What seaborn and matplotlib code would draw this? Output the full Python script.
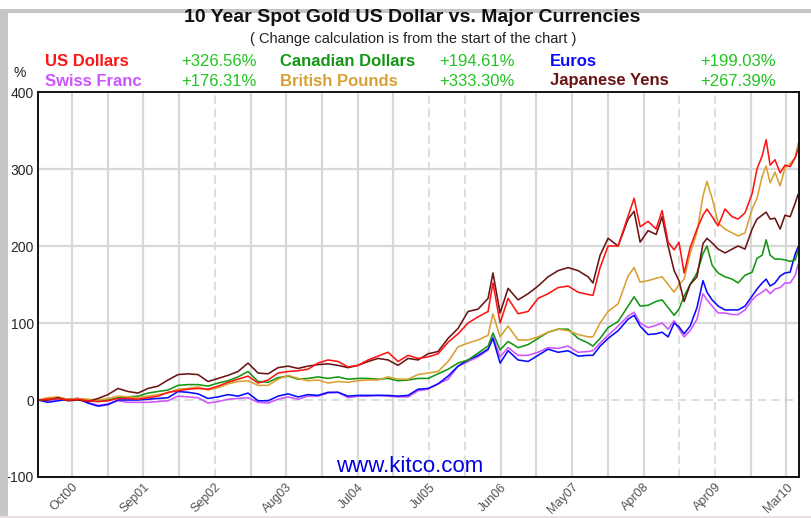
import pandas as pd
import matplotlib
matplotlib.use("Agg")
import matplotlib.pyplot as plt
import seaborn as sns
from matplotlib.patches import Rectangle

# ------------------------------------------------------------
# data (trading-day index, % change from start)
# ------------------------------------------------------------
days = [0, 35, 70, 105, 140, 175, 210, 245, 280, 315,
        350, 385, 420, 455, 490, 525, 560, 595, 630, 665,
        700, 735, 770, 805, 840, 875, 910, 945, 980, 1015,
        1050, 1085, 1120, 1155, 1190, 1225, 1260, 1295, 1330, 1365,
        1400, 1435, 1470, 1505, 1540, 1575, 1592, 1617, 1645, 1680,
        1715, 1750, 1785, 1820, 1855, 1890, 1925, 1942, 1967, 1995,
        2030, 2065, 2086, 2107, 2135, 2163, 2184, 2205, 2226, 2243,
        2261, 2282, 2306, 2327, 2341, 2359, 2380, 2404, 2429, 2450,
        2474, 2499, 2516, 2534, 2548, 2562, 2579, 2597, 2614, 2632,
        2650, 2660]

usd = [0, 1, 2, 0, 1, -1, -2, -1, 2, 2,
       1, 3, 5, 10, 12, 14, 15, 14, 18, 23,
       27, 31, 22, 26, 35, 37, 38, 40, 48, 52,
       50, 43, 45, 52, 57, 62, 50, 58, 54, 56,
       60, 75, 86, 100, 108, 115, 152, 100, 132, 112,
       115, 132, 138, 146, 148, 140, 137, 136, 172, 200,
       200, 239, 262, 225, 232, 222, 246, 205, 195, 205,
       165, 198, 222, 240, 248, 238, 226, 248, 238, 235,
       243, 268, 300, 317, 338, 305, 312, 295, 305, 303,
       315, 326.56]

cad = [0, 1, 2, 0, 1, -1, -2, 0, 3, 4,
       5, 9, 11, 13, 19, 20, 20, 18, 22, 25,
       30, 37, 24, 23, 29, 31, 27, 28, 30, 28,
       30, 27, 28, 28, 27, 28, 25, 26, 28, 28,
       34, 40, 48, 52, 61, 70, 87, 65, 76, 68,
       72, 80, 88, 92, 92, 80, 74, 70, 80, 94,
       102, 122, 134, 122, 123, 128, 130, 120, 110, 118,
       135, 150, 165, 190, 200, 175, 165, 160, 157, 152,
       162, 166, 184, 188, 208, 188, 183, 183, 182, 180,
       182, 194.61]

eur = [0, -3, -1, 1, 2, -4, -8, -6, 0, 0,
       0, 1, 2, 3, 11, 10, 8, 2, 4, 7,
       5, 9, -1, -1, 5, 8, 4, 7, 6, 10,
       10, 5, 6, 6, 6, 6, 5, 6, 14, 15,
       21, 31, 44, 52, 58, 66, 80, 48, 64, 52,
       50, 58, 66, 62, 64, 57, 58, 58, 70, 80,
       90, 105, 110, 96, 85, 86, 88, 82, 100, 95,
       86, 96, 120, 155, 140, 130, 122, 117, 117, 117,
       122, 135, 144, 152, 157, 148, 152, 161, 165, 166,
       190, 199.03]

chf = [0, -1, 1, 0, 1, -3, -7, -5, -1, -3,
       -3, -3, -2, -1, 5, 4, 3, -4, -2, 1,
       2, 3, -3, -4, 1, 4, 1, 5, 5, 9,
       10, 3, 5, 5, 6, 5, 4, 4, 12, 14,
       21, 27, 44, 50, 56, 65, 82, 56, 68, 58,
       58, 62, 68, 67, 70, 62, 63, 64, 74, 84,
       96, 109, 114, 100, 94, 97, 100, 92, 103, 92,
       82, 90, 105, 138, 130, 122, 113, 113, 111, 111,
       117, 130, 136, 140, 144, 138, 144, 146, 152, 152,
       162, 176.31]

gbp = [0, 3, 4, 1, 2, 1, 0, 2, 5, 4,
       3, 5, 7, 9, 14, 15, 17, 13, 16, 21,
       24, 25, 19, 19, 27, 32, 28, 25, 26, 22,
       24, 23, 25, 26, 26, 30, 27, 27, 33, 35,
       37, 50, 69, 74, 78, 84, 112, 82, 96, 78,
       78, 82, 88, 92, 90, 85, 82, 82, 100, 115,
       125, 161, 172, 153, 155, 158, 160, 150, 140, 150,
       157, 190, 218, 265, 284, 262, 230, 222, 217, 213,
       217, 248, 262, 290, 304, 282, 296, 278, 302, 307,
       315, 333.30]

jpy = [0, 0, 3, -1, 0, -2, 2, 7, 15, 11,
       9, 15, 18, 26, 33, 34, 33, 24, 28, 32,
       37, 48, 35, 34, 42, 44, 41, 44, 46, 47,
       45, 42, 45, 50, 54, 52, 45, 54, 52, 60,
       63, 80, 93, 115, 118, 132, 165, 113, 145, 130,
       138, 148, 160, 168, 172, 168, 160, 152, 188, 210,
       200, 235, 245, 205, 220, 215, 238, 200, 168, 155,
       128, 150, 160, 203, 210, 204, 196, 191, 196, 200,
       196, 222, 235, 240, 244, 235, 236, 222, 240, 238,
       256, 267.39]

names = ["US Dollars", "Canadian Dollars", "Euros",
         "Swiss Franc", "British Pounds", "Japanese Yens"]
changes = ["+326.56%", "+194.61%", "+199.03%",
           "+176.31%", "+333.30%", "+267.39%"]
colors = ["#ff1414", "#149614", "#0a0aff",
          "#cc55ff", "#d9a032", "#6a1414"]

tick_days = [119, 369, 619, 869, 1119, 1369, 1619, 1869, 2119, 2369, 2619]
tick_labels = ["Oct00", "Sep01", "Sep02", "Aug03", "Jul04", "Jul05",
               "Jun06", "May07", "Apr08", "Apr09", "Mar10"]

# long table for seaborn
series = [usd, cad, eur, chf, gbp, jpy]
df = pd.DataFrame({
    "day": days * len(series),
    "pct": [v for s in series for v in s],
    "currency": [n for n, s in zip(names, series) for _ in s],
})

# ------------------------------------------------------------
# figure
# ------------------------------------------------------------
sns.set_style("white")
plt.rcParams["font.family"] = ["Liberation Sans", "DejaVu Sans"]

W, H = 811, 518
fig = plt.figure(figsize=(W / 100, H / 100), dpi=100)


def fx(px):
    return px / W


def fy(py):
    return 1 - py / H


# page frame: grey strip left and top, faint line at bottom
fig.patches.append(Rectangle((0, 0), fx(8), fy(9), transform=fig.transFigure,
                             facecolor="#c6c6c6", edgecolor="none", zorder=0))
fig.patches.append(Rectangle((0, fy(13)), 1, 4 / H, transform=fig.transFigure,
                             facecolor="#c6c6c6", edgecolor="none", zorder=0))
fig.patches.append(Rectangle((0, 0), 1, 2 / H, transform=fig.transFigure,
                             facecolor="#eadde6", edgecolor="none", zorder=0))

ax = fig.add_axes([fx(38), fy(477), (799 - 38) / W, (477 - 92) / H])

# grid
grid_days = [119 + 125 * i for i in range(21)]
dashed = {4, 10, 11, 17, 18}
for i, gd in enumerate(grid_days):
    if i in dashed:
        ax.axvline(gd, color="#cfdccf", lw=1.2, ls=(0, (5, 3)), zorder=0)
    else:
        ax.axvline(gd, color="#d8d8d8", lw=1.6, zorder=0)
for yv in [100, 200, 300]:
    ax.axhline(yv, color="#d8d8d8", lw=1.6, zorder=0)
ax.axhline(0, color="#cfdccf", lw=1.2, ls=(0, (5, 3)), zorder=0)

draw_order = ["Swiss Franc", "Euros", "Canadian Dollars",
              "British Pounds", "Japanese Yens", "US Dollars"]
sns.lineplot(data=df, x="day", y="pct", hue="currency",
             hue_order=draw_order,
             palette=dict(zip(names, colors)),
             estimator=None, sort=False, linewidth=1.15,
             legend=False, ax=ax)

ax.set_xlim(0, 2663)
ax.set_ylim(-100, 400)
ax.set_yticks([-100, 0, 100, 200, 300, 400])
ax.set_xticks(tick_days)
ax.set_xticklabels(tick_labels, rotation=45, ha="right",
                   rotation_mode="anchor", fontsize=9, color="#555555")
ax.tick_params(axis="x", length=0, pad=3)
ax.tick_params(axis="y", direction="in", length=6, width=1.2,
               labelsize=10, color="#222222", pad=3)
ax.set_xlabel("")
ax.set_ylabel("")
for sp in ax.spines.values():
    sp.set_color("#111111")
    sp.set_linewidth(1.4)

# titles
fig.text(0.508, fy(17), "10 Year Spot Gold US Dollar vs. Major Currencies",
         ha="center", va="center", fontsize=14, fontweight="bold", color="#111111")
fig.text(0.51, fy(39), "( Change calculation is from the start of the chart )",
         ha="center", va="center", fontsize=10.5, color="#222222")

# header legend: row 1 USD/CAD/EUR, row 2 CHF/GBP/JPY
name_x = [45, 280, 550]
pct_x = [257, 515, 776]
row_y = [61, 81]
for k, (nm, ch, col) in enumerate(zip(names, changes, colors)):
    r = 0 if k < 3 else 1
    c = k % 3
    fig.text(fx(name_x[c]), fy(row_y[r]), nm, ha="left", va="center",
             fontsize=12, fontweight="bold", color=col)
    fig.text(fx(pct_x[c]), fy(row_y[r]), ch, ha="right", va="center",
             fontsize=12, color="#22c422")

fig.text(fx(20), fy(73), "%", ha="center", va="center", fontsize=10, color="#222222")

# watermark
ax.text(0.488, 0.027, "www.kitco.com", transform=ax.transAxes,
        ha="center", va="center", fontsize=16, color="#0000e0")

fig.savefig("out.png", dpi=100)
